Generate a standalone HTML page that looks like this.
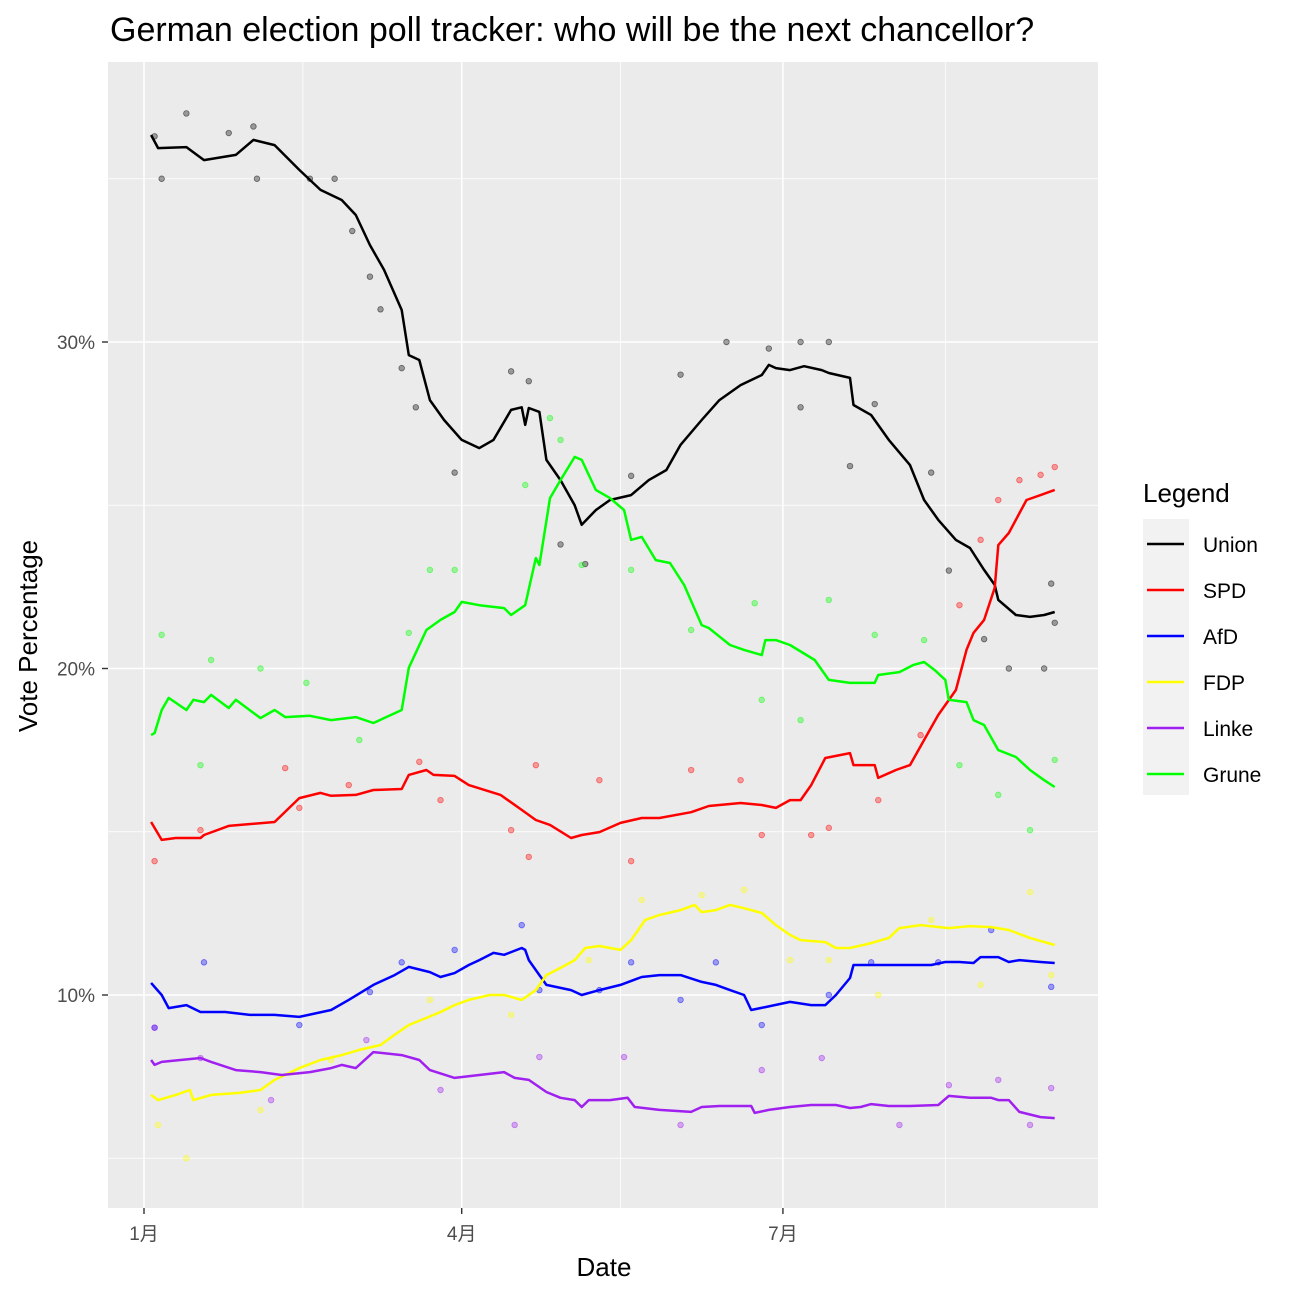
<!DOCTYPE html>
<html><head><meta charset="utf-8">
<style>
html,body{margin:0;padding:0;background:#fff;}
svg{display:block;font-family:"Liberation Sans","Noto Sans CJK SC",sans-serif;}
</style></head>
<body>
<svg id="chart" width="1296" height="1296" viewBox="0 0 1296 1296" xmlns="http://www.w3.org/2000/svg">
<rect x="0" y="0" width="1296" height="1296" fill="#fff"/>
<text x="110" y="41" font-size="34" fill="#000">German election poll tracker: who will be the next chancellor?</text>
<rect x="108" y="62" width="990" height="1146" fill="#ebebeb"/>
<g id="grid"></g>
<g id="points"></g>
<g id="lines"></g>
<g id="axes"></g>
<text x="604" y="1276" font-size="26" text-anchor="middle" fill="#000">Date</text>
<text transform="translate(37,636) rotate(-90)" font-size="26" text-anchor="middle" fill="#000">Vote Percentage</text>
<g id="legend">
<text x="1143" y="502" font-size="26" fill="#000">Legend</text>
<rect x="1143" y="519" width="46" height="276" fill="#f2f2f2"/>
</g>
</svg>
<script>
const NS='http://www.w3.org/2000/svg';
const partyNames=['Union','SPD','AfD','FDP','Linke','Grune'];
const partyColors=['#000000','#ff0000','#0000ff','#ffff00','#a020f0','#00ff00'];
const yTicks=[10,20,30];
const yTickLabels=['10%','20%','30%'];
const yMinor=[5,15,25,35];
const xTickDays=[0,90,181];
const xTickLabels=['1月','4月','7月'];
const xMinor=[45,135,227];

const unionDays=[2,4,12,17,26,31,37,44,50,56,60,64,68,73,75,78,81,85,90,95,99,104,107,108,109,112,114,118,122,124,128,132,138,143,148,152,158,163,169,175,177,179,183,187,192,194,200,201,206,211,217,221,225,230,234,238,241,242,247,251,255,258];
const unionVals=[36.34,35.94,35.97,35.57,35.73,36.19,36.03,35.27,34.66,34.35,33.89,32.97,32.21,30.98,29.6,29.45,28.22,27.61,27.0,26.75,27.0,27.92,28.0,27.46,27.98,27.86,26.39,25.77,25.0,24.4,24.85,25.16,25.31,25.77,26.08,26.85,27.61,28.22,28.68,28.99,29.3,29.2,29.14,29.26,29.14,29.05,28.9,28.07,27.76,27.0,26.23,25.16,24.55,23.94,23.69,23.02,22.56,22.1,21.64,21.58,21.64,21.73];
const spdDays=[2,5,9,16,17,24,37,44,50,53,60,65,73,75,80,82,88,92,101,107,111,115,121,124,129,135,141,146,155,160,169,175,179,183,186,189,193,200,201,207,208,213,217,221,225,230,233,235,238,241,242,245,250,254,258];
const spdVals=[15.3,14.75,14.81,14.81,14.9,15.18,15.3,16.03,16.19,16.1,16.13,16.28,16.31,16.74,16.89,16.74,16.71,16.43,16.13,15.67,15.36,15.21,14.81,14.9,14.99,15.27,15.42,15.42,15.6,15.79,15.88,15.82,15.73,15.97,15.97,16.43,17.26,17.41,17.04,17.04,16.65,16.89,17.04,17.81,18.58,19.34,20.57,21.09,21.49,22.47,23.78,24.15,25.16,25.31,25.47];
const afdDays=[2,5,7,12,16,23,30,37,44,53,58,65,71,75,81,84,88,92,95,99,102,107,108,109,112,114,121,124,129,135,141,146,152,158,162,166,170,172,176,183,189,193,196,200,201,207,214,223,227,231,235,237,242,245,248,254,258];
const afdVals=[10.37,10.0,9.6,9.69,9.48,9.48,9.39,9.39,9.33,9.54,9.85,10.31,10.61,10.86,10.7,10.55,10.67,10.92,11.07,11.29,11.23,11.44,11.38,11.07,10.61,10.31,10.15,10.0,10.15,10.31,10.55,10.61,10.61,10.4,10.31,10.15,10.0,9.54,9.63,9.79,9.69,9.69,10.0,10.52,10.92,10.92,10.92,10.92,11.01,11.01,10.98,11.16,11.16,11.01,11.07,11.01,10.98];
const fdpDays=[2,4,9,13,14,19,27,33,37,44,50,56,61,67,71,75,80,84,88,92,98,102,107,111,114,118,122,125,129,135,138,142,146,152,156,158,162,166,170,175,179,183,186,193,196,200,206,211,214,220,228,234,240,245,251,258];
const fdpVals=[6.94,6.78,6.94,7.09,6.78,6.94,7.0,7.09,7.4,7.76,8.01,8.16,8.32,8.47,8.78,9.08,9.3,9.48,9.69,9.85,10.0,10.0,9.85,10.15,10.61,10.83,11.07,11.44,11.5,11.38,11.68,12.3,12.45,12.6,12.76,12.54,12.6,12.76,12.66,12.51,12.14,11.84,11.68,11.62,11.44,11.44,11.59,11.75,12.05,12.14,12.05,12.11,12.08,11.99,11.75,11.53];
const linkeDays=[2,3,5,16,19,26,33,39,47,53,56,60,65,73,78,81,88,95,102,105,109,114,118,122,124,126,132,137,139,146,155,158,163,172,173,177,183,189,196,200,203,206,211,217,225,228,234,240,242,245,248,254,258];
const linkeVals=[8.01,7.86,7.95,8.07,7.95,7.7,7.64,7.55,7.64,7.76,7.86,7.76,8.25,8.16,8.01,7.7,7.46,7.55,7.64,7.46,7.4,7.03,6.85,6.78,6.57,6.78,6.78,6.85,6.57,6.48,6.42,6.57,6.6,6.6,6.39,6.48,6.57,6.63,6.63,6.54,6.57,6.66,6.6,6.6,6.63,6.91,6.85,6.85,6.78,6.78,6.42,6.26,6.23];
const gruneDays=[2,3,5,7,12,14,17,19,24,26,33,37,40,47,53,60,65,70,73,75,80,84,88,90,95,102,104,108,111,112,115,118,122,124,128,132,136,138,141,145,149,153,158,160,166,170,175,176,179,183,190,194,200,207,208,214,218,221,224,227,228,233,235,238,242,247,251,255,258];
const gruneVals=[17.96,18.02,18.73,19.1,18.73,19.04,18.97,19.19,18.79,19.04,18.48,18.73,18.51,18.55,18.42,18.51,18.33,18.58,18.73,20.02,21.18,21.49,21.73,22.04,21.94,21.85,21.64,21.94,23.38,23.17,25.22,25.77,26.48,26.39,25.47,25.22,24.85,23.94,24.03,23.32,23.23,22.56,21.33,21.24,20.72,20.57,20.41,20.87,20.87,20.72,20.26,19.65,19.56,19.56,19.8,19.89,20.11,20.2,19.95,19.65,19.04,18.97,18.42,18.27,17.5,17.29,16.89,16.58,16.37];

const unionPtDays=[3,5,12,24,31,32,47,54,59,64,67,73,77,88,104,109,118,125,138,152,165,177,186,194,186,200,207,223,228,238,245,255,257,258];
const unionPtVals=[36.3,35.0,37.0,36.4,36.6,35.0,35.0,35.0,33.4,32.0,31.0,29.2,28.0,26.0,29.1,28.8,23.8,23.2,25.9,29.0,30.0,29.8,30.0,30.0,28.0,26.2,28.1,26.0,23.0,20.9,20.0,20.0,22.6,21.4];
const spdPtDays=[3,16,40,44,58,78,84,104,109,111,129,138,155,169,175,189,194,208,220,231,237,242,248,254,258];
const spdPtVals=[14.1,15.05,16.95,15.73,16.43,17.14,15.97,15.05,14.23,17.04,16.58,14.1,16.89,16.58,14.9,14.9,15.12,15.97,17.96,21.94,23.94,25.16,25.77,25.93,26.17];
const afdPtDays=[3,17,44,64,73,88,107,112,129,138,152,162,175,194,206,225,240,257];
const afdPtVals=[9.0,11.0,9.08,10.09,11.0,11.38,12.14,10.15,10.15,11.0,9.85,11.0,9.08,10.0,11.0,11.0,11.99,10.25];
const fdpPtDays=[4,12,33,53,81,104,126,141,158,170,183,194,208,223,237,251,257];
const fdpPtVals=[6.02,5.0,6.48,8.01,9.85,9.39,11.07,12.91,13.06,13.22,11.07,11.07,10.0,12.3,10.31,13.15,10.61];
const linkePtDays=[3,16,36,63,84,105,112,136,152,175,192,214,228,242,251,257];
const linkePtVals=[9.0,8.07,6.78,8.62,7.09,6.02,8.1,8.1,6.02,7.7,8.07,6.02,7.24,7.4,6.02,7.15];
const grunePtDays=[5,16,19,33,46,61,75,81,88,108,115,118,124,138,155,173,175,186,194,207,221,231,242,251,258];
const grunePtVals=[21.03,17.04,20.26,20.0,19.56,17.81,21.09,23.02,23.02,25.62,27.67,27.0,23.17,23.02,21.18,22.0,19.04,18.42,22.1,21.03,20.87,17.04,16.13,15.05,17.2];

const lineDays=[unionDays,spdDays,afdDays,fdpDays,linkeDays,gruneDays];
const lineVals=[unionVals,spdVals,afdVals,fdpVals,linkeVals,gruneVals];
const ptDays=[unionPtDays,spdPtDays,afdPtDays,fdpPtDays,linkePtDays,grunePtDays];
const ptVals=[unionPtVals,spdPtVals,afdPtVals,fdpPtVals,linkePtVals,grunePtVals];

const PX0=108,PX1=1098,PY0=62,PY1=1208;
function xScale(d){return 144+d*3.53;}
function yScale(v){return 342+(30-v)*32.65;}
function mk(tag,attrs,parent){const e=document.createElementNS(NS,tag);for(const k in attrs)e.setAttribute(k,attrs[k]);parent.appendChild(e);return e;}

const grid=document.getElementById('grid');
yMinor.forEach(v=>{const l=mk('line',{x1:PX0,x2:PX1,y1:yScale(v),y2:yScale(v),stroke:'#fff','stroke-width':0.8},grid);

});
xMinor.forEach(d=>{const l=mk('line',{x1:xScale(d),x2:xScale(d),y1:PY0,y2:PY1,stroke:'#fff','stroke-width':0.8},grid);

});
yTicks.forEach(v=>{const l=mk('line',{x1:PX0,x2:PX1,y1:yScale(v),y2:yScale(v),stroke:'#fff','stroke-width':1.5},grid);

});
xTickDays.forEach(d=>{const l=mk('line',{x1:xScale(d),x2:xScale(d),y1:PY0,y2:PY1,stroke:'#fff','stroke-width':1.5},grid);

});

const axes=document.getElementById('axes');
yTicks.forEach((v,i)=>{const y=yScale(v);
const t=mk('line',{x1:102,x2:108,y1:y,y2:y,stroke:'#333','stroke-width':1.4},axes);


const lb=mk('text',{x:95,y:y+7,'font-size':19,'text-anchor':'end',fill:'#4d4d4d'},axes);lb.textContent=yTickLabels[i];

});
xTickDays.forEach((d,i)=>{const x=xScale(d);
const t=mk('line',{x1:x,x2:x,y1:1208,y2:1214,stroke:'#333','stroke-width':1.4},axes);


const lb=mk('text',{x:x,y:1240,'font-size':19,'text-anchor':'middle',fill:'#4d4d4d'},axes);lb.textContent=xTickLabels[i];

});

const pts=document.getElementById('points');
ptDays.forEach((ds,s)=>{ds.forEach((d,j)=>{
const c=mk('circle',{cx:xScale(d),cy:yScale(ptVals[s][j]),r:2.8,fill:partyColors[s],'fill-opacity':0.35,stroke:partyColors[s],'stroke-opacity':0.5,'stroke-width':0.8},pts);

});});

const lines=document.getElementById('lines');
lineDays.forEach((ds,s)=>{
const d=ds.map((dd,j)=>(j?'L':'M')+xScale(dd).toFixed(1)+','+yScale(lineVals[s][j]).toFixed(1)).join(' ');
const p=mk('path',{d:d,fill:'none',stroke:partyColors[s],'stroke-width':2.5,'stroke-linejoin':'round'},lines);

});

const leg=document.getElementById('legend');
partyNames.forEach((n,i)=>{const y=544+i*46;
const g=mk('g',{},leg);


mk('line',{x1:1147,x2:1184,y1:y,y2:y,stroke:partyColors[i],'stroke-width':2.4},g);
const t=mk('text',{x:1203,y:y+8,'font-size':21,fill:'#000'},g);t.textContent=n;});
</script>
</body></html>
